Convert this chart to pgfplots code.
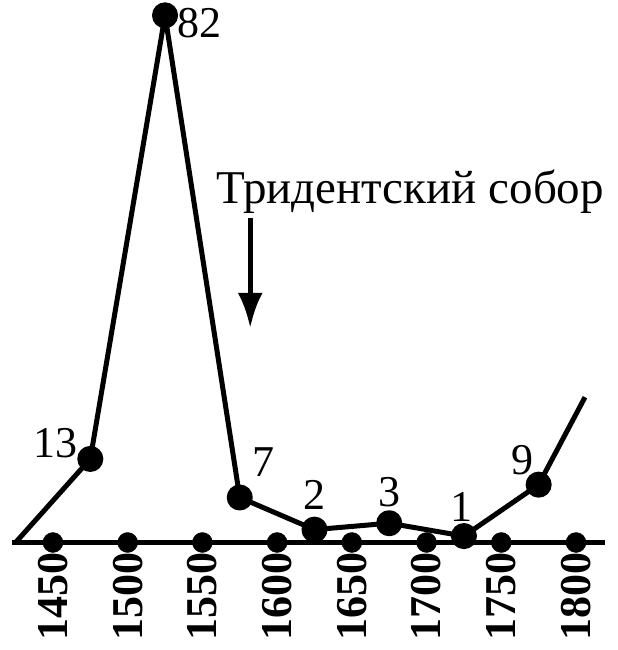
\documentclass[border=0pt]{standalone}
\usepackage{pgfplots}
\pgfplotsset{compat=1.18}
\usepackage{fontspec}
\setmainfont{Liberation Serif}
\usetikzlibrary{arrows.meta}
\newcommand{\bigfont}{\fontsize{44bp}{48bp}\selectfont}
\begin{document}
\begin{tikzpicture}
  \useasboundingbox (0,0) rectangle (618bp,650bp);
  \begin{axis}[
      at={(12bp,107.5bp)}, anchor=south west,
      scale only axis,
      width=593bp, height=540bp,
      xmin=1422.6, xmax=1819.4,
      ymin=0, ymax=84,
      axis x line*=bottom,
      axis y line=none,
      axis line style={line width=4.5bp},
      xtick={1450,1500,1550,1600,1650,1700,1750,1800},
      xticklabels={1450,1500,1550,1600,1650,1700,1750,1800},
      major tick length=0pt,
      xticklabel shift=10bp,
      xticklabel style={rotate=90, anchor=east, inner sep=0pt, font=\bigfont\bfseries},
      clip=false,
    ]
    % tick dots on the axis
    \addplot[only marks, mark=*, mark size=10bp, black]
    coordinates {
      (1450,0) (1500,0) (1550,0) (1600,0) (1650,0) (1700,0) (1750,0) (1800,0)
    };
    % number per half century
    \addplot[black, line width=5bp, line join=round, mark=*, mark size=10.5bp,
             mark indices={2,3,4,5,6,7,8}]
    coordinates {
      (1425,0)
      (1475,13)
      (1525,82)
      (1575,7)
      (1625,2)
      (1675,3)
      (1725,1)
      (1775,9)
      (1806,22.6)
    };
    \node[anchor=base east, inner sep=0pt, font=\bigfont] at (axis cs:1475,13) [xshift=-13bp, yshift=1bp] {13};
    \node[anchor=base west, inner sep=0pt, font=\bigfont] at (axis cs:1525,82) [xshift=12bp, yshift=-22bp] {82};
    \node[anchor=base west, inner sep=0pt, font=\bigfont] at (axis cs:1575,7) [xshift=13bp, yshift=21bp] {7};
    \node[anchor=base, inner sep=0pt, font=\bigfont] at (axis cs:1625,2) [yshift=20bp] {2};
    \node[anchor=base, inner sep=0pt, font=\bigfont] at (axis cs:1675,3) [yshift=17bp] {3};
    \node[anchor=base, inner sep=0pt, font=\bigfont] at (axis cs:1725,1) [xshift=-2bp, yshift=15bp] {1};
    \node[anchor=base east, inner sep=0pt, font=\bigfont] at (axis cs:1775,9) [xshift=-5bp, yshift=10bp] {9};
    % Council of Trent
    \node[anchor=base, inner sep=0pt, font=\fontsize{47bp}{50bp}\selectfont] at (axis cs:1689,52.8) {Тридентский собор};
    \draw[line width=5bp, -{Latex[length=35bp, width=25bp]}] (axis cs:1582,50.5) -- (axis cs:1582,33.4);
  \end{axis}
\end{tikzpicture}
\end{document}
